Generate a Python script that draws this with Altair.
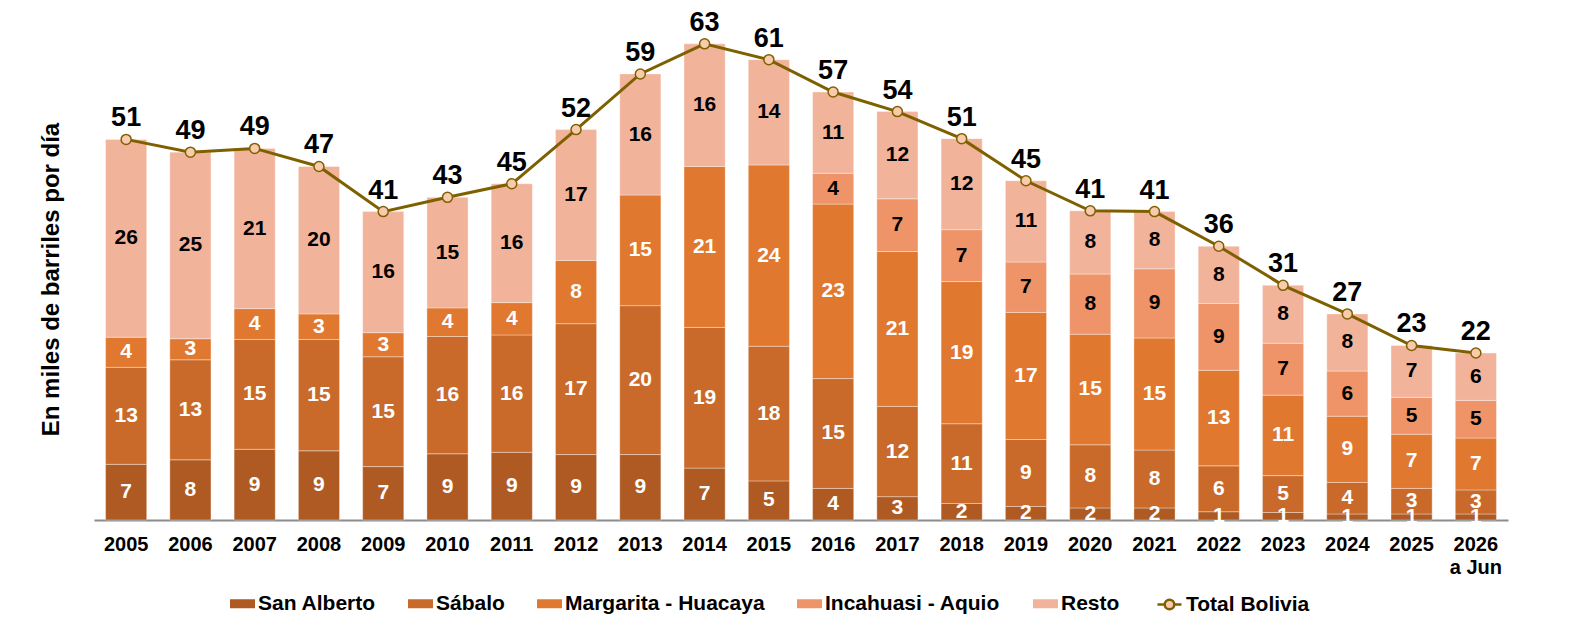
import altair as alt
import pandas as pd

years = ["2005", "2006", "2007", "2008", "2009", "2010", "2011", "2012", "2013", "2014", "2015",
         "2016", "2017", "2018", "2019", "2020", "2021", "2022", "2023", "2024", "2025", "2026"]

san_alberto = [7.4, 8.0, 9.4, 9.2, 7.1, 8.8, 9.0, 8.7, 8.7, 6.9, 5.2, 4.2, 3.1, 2.2, 1.8, 1.6, 1.6, 1.1, 1.0, 0.8, 0.8, 0.8]
sabalo = [12.9, 13.3, 14.6, 14.8, 14.6, 15.6, 15.6, 17.4, 19.8, 18.7, 17.9, 14.6, 12.0, 10.6, 8.9, 8.4, 7.7, 6.1, 4.9, 4.2, 3.4, 3.2]
margarita = [4.0, 2.8, 4.1, 3.4, 3.2, 3.8, 4.3, 8.4, 14.7, 21.4, 24.1, 23.2, 20.6, 18.9, 16.9, 14.7, 14.9, 12.7, 10.7, 8.8, 7.2, 6.9]
incahuasi = [0, 0, 0, 0, 0, 0, 0, 0, 0, 0, 0, 4.1, 7.0, 6.9, 6.7, 8.0, 9.2, 8.9, 6.9, 6.0, 4.9, 5.0]
resto = [26.3, 24.8, 21.3, 19.6, 16.1, 14.7, 15.8, 17.4, 16.1, 16.3, 14.0, 10.8, 11.6, 12.1, 10.8, 8.4, 7.6, 7.6, 7.7, 7.6, 6.9, 6.3]
total = [50.6, 48.9, 49.4, 47.0, 41.0, 42.9, 44.7, 51.9, 59.3, 63.3, 61.2, 56.9, 54.3, 50.7, 45.1, 41.1, 41.0, 36.4, 31.2, 27.4, 23.2, 22.2]

series_names = ["San Alberto", "Sábalo", "Margarita - Huacaya", "Incahuasi - Aquio", "Resto"]
series_colors = ["#AF5A22", "#C96A2A", "#E07830", "#EE9468", "#F2B39B"]
label_colors = ["white", "white", "white", "black", "black"]
total_name = "Total Bolivia"

FONT = "Liberation Sans"

rows = []
for k, (name, vals) in enumerate(zip(series_names, [san_alberto, sabalo, margarita, incahuasi, resto])):
    for i, yr in enumerate(years):
        rows.append({"year": yr, "series": name, "ord": k, "value": vals[i], "lc": label_colors[k]})
df = pd.DataFrame(rows)
tot = pd.DataFrame({"year": years, "total": total, "serie": total_name})

x = alt.X("year:N", sort=years,
          scale=alt.Scale(paddingInner=0.36, paddingOuter=0.18),
          axis=alt.Axis(title=None, labelAngle=0, labelFont=FONT, labelFontSize=20,
                        labelFontWeight="bold", labelColor="black", ticks=False,
                        domainColor="#8C8C8C", domainWidth=2, labelPadding=14,
                        labelLineHeight=23,
                        labelExpr="datum.value == '2026' ? ['2026', 'a Jun'] : datum.value"))
yscale = alt.Scale(domain=[0, 64.08], nice=False, zero=True)
yaxis = alt.Axis(title="En miles de barriles por día", labels=False, ticks=False, domain=False,
                 grid=False, titleFont=FONT, titleFontSize=24, titleFontWeight="bold",
                 titleColor="black", titlePadding=31)

stacked = (alt.Chart(df)
           .transform_filter("datum.value > 0")
           .transform_stack(stack="value", groupby=["year"], as_=["y0", "y1"],
                            sort=[alt.SortField("ord", order="ascending")])
           .transform_calculate(mid="(datum.y0 + datum.y1) / 2"))

bars = stacked.mark_bar(stroke="white", strokeWidth=1, strokeOpacity=0.35).encode(
    x=x,
    y=alt.Y("y0:Q", scale=yscale, axis=yaxis),
    y2="y1:Q",
    color=alt.Color("series:N",
                    scale=alt.Scale(domain=series_names, range=series_colors),
                    legend=alt.Legend(title=None, orient="none", direction="horizontal",
                                      columns=5, legendX=136, legendY=553,
                                      symbolType="M-1,-0.36H1V0.36H-1Z", symbolSize=625,
                                      symbolStrokeWidth=0, labelFont=FONT, labelFontSize=21,
                                      labelFontWeight="bold", labelColor="black",
                                      labelLimit=400, columnPadding=32, labelOffset=3)),
)

bar_labels = stacked.mark_text(font=FONT, fontSize=21, fontWeight="bold", baseline="middle").encode(
    x=x,
    y=alt.Y("mid:Q", scale=yscale),
    text=alt.Text("value:Q", format=".0f"),
    color=alt.Color("lc:N", scale=None),
)

line = alt.Chart(tot).mark_line(color="#7F6000", strokeWidth=3).encode(
    x=x, y=alt.Y("total:Q", scale=yscale))

points = alt.Chart(tot).mark_point(filled=True, size=100, stroke="#7F6000", strokeWidth=1.5,
                                   opacity=1).encode(
    x=x, y=alt.Y("total:Q", scale=yscale),
    fill=alt.Fill("serie:N", scale=alt.Scale(domain=[total_name], range=["#F8CBAD"]),
                  legend=alt.Legend(title=None, orient="none", direction="horizontal",
                                    legendX=1062, legendY=553,
                                    symbolType="M-1,0H-0.4M0.4,0H1M0.4,0A0.4,0.4 0 1 1 -0.4,0A0.4,0.4 0 1 1 0.4,0",
                                    symbolSize=576, symbolStrokeColor="#7F6000",
                                    symbolStrokeWidth=2.5, symbolOpacity=1,
                                    labelFont=FONT, labelFontSize=21, labelLimit=400,
                                    labelFontWeight="bold", labelColor="black", labelOffset=3)),
)

total_labels = alt.Chart(tot).mark_text(font=FONT, fontSize=27, fontWeight="bold",
                                        baseline="bottom", dy=-7, color="black").encode(
    x=x, y=alt.Y("total:Q", scale=yscale),
    text=alt.Text("total:Q", format=".0f"))

chart = (alt.layer(bars, bar_labels, line, points, total_labels)
         .resolve_scale(color="independent")
         .properties(width=1414, height=482,
                     autosize=alt.AutoSizeParams(type="none"),
                     padding={"left": 86, "top": 30, "right": 40, "bottom": 97})
         .configure(font=FONT)
         .configure_view(strokeWidth=0, stroke="transparent"))

chart.save("out.html", embed_options={"renderer": "svg", "actions": False})
